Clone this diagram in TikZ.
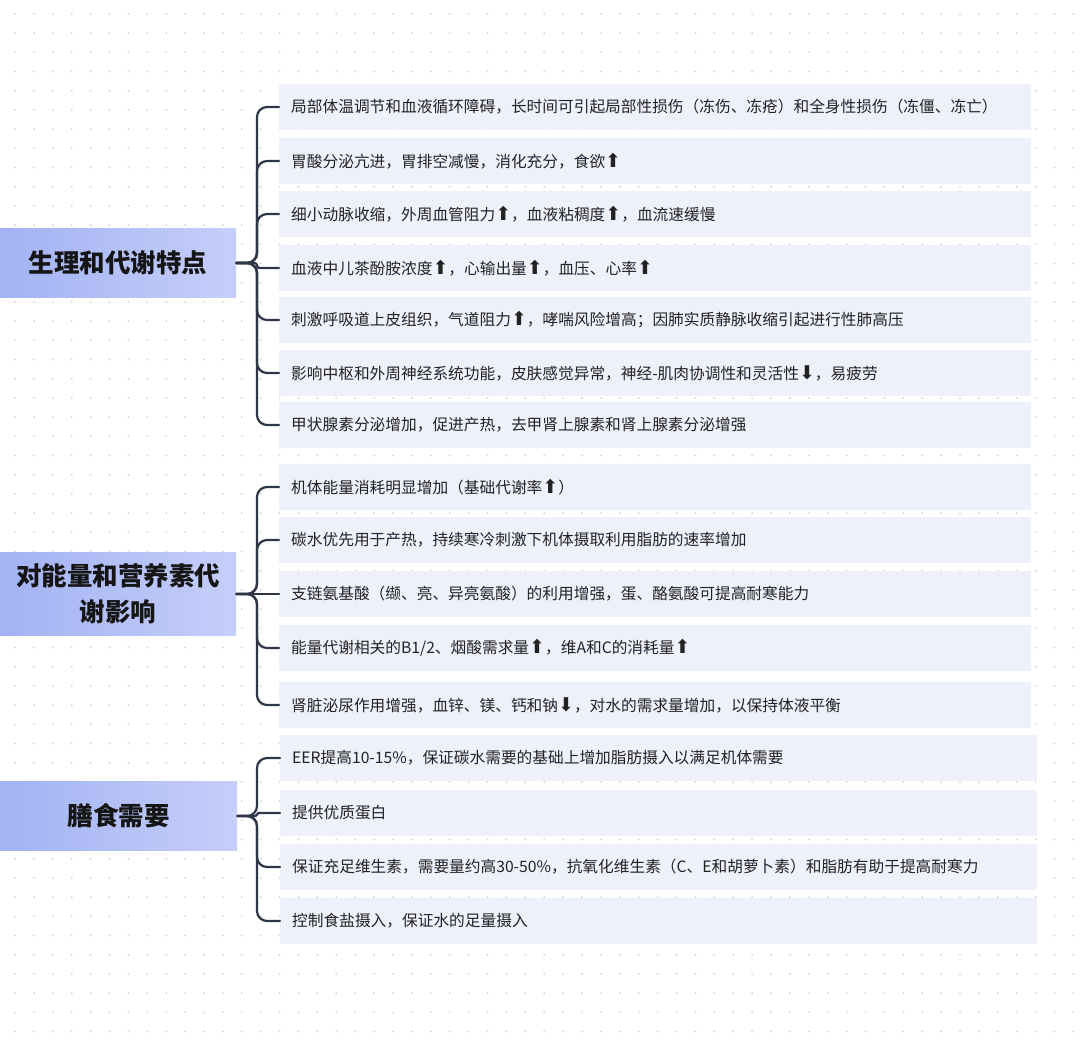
\documentclass[tikz,border=0pt]{standalone}
\usepackage{fontspec}
\setmainfont{Noto Sans CJK SC}
\newfontfamily\symfont{DejaVu Sans}
\newcommand\arrowup{{\symfont\fontsize{19}{19}\selectfont ⬆}}
\newcommand\arrowdn{{\symfont\fontsize{19}{19}\selectfont ⬇}}
\definecolor{boxfill}{HTML}{EEF1FC}
\definecolor{linec}{HTML}{2E3648}
\definecolor{dotc}{HTML}{D8D8D8}
\definecolor{pleft}{HTML}{A2B2F3}
\definecolor{pright}{HTML}{C6CFFA}
\definecolor{txt}{HTML}{222222}
\definecolor{ptxt}{HTML}{151515}
\tikzset{
  childbox/.style={fill=boxfill, draw=none, anchor=west, minimum height=46pt,
    text width=728pt, inner xsep=12pt, inner ysep=0pt, align=left,
    font=\fontsize{15.7}{18}\selectfont, text=txt},
  parentbox/.style={left color=pleft, right color=pright, draw=none, anchor=west,
    minimum width=236pt, inner sep=0pt, align=center,
    font=\fontsize{25.5}{36}\selectfont\bfseries, text=ptxt},
  conn/.style={draw=linec, line width=2.2pt, line cap=round}
}
\begin{document}
\begin{tikzpicture}[x=1pt,y=-1pt]
\useasboundingbox (0,0) rectangle (1080,1040);
\fill[white] (0,0) rectangle (1080,1040);
% dot grid
\foreach \i in {0,...,56}{
  \foreach \j in {0,...,53}{
    \fill[dotc] (15+\i*18.9, 14+\j*19.2) circle (1.1);
  }
}
% trunk x position
\coordinate (tk) at (257,0);

% group 1
\node[parentbox, minimum height=69pt] (p1) at (0,263) {生理和代谢特点};
\node[childbox] (c11) at (279,107) {局部体温调节和血液循环障碍，长时间可引起局部性损伤（冻伤、冻疮）和全身性损伤（冻僵、冻亡）};
\node[childbox] (c12) at (279,161) {胃酸分泌亢进，胃排空减慢，消化充分，食欲\arrowup};
\node[childbox] (c13) at (279,214) {细小动脉收缩，外周血管阻力\arrowup，血液粘稠度\arrowup，血流速缓慢};
\node[childbox] (c14) at (279,268) {血液中儿茶酚胺浓度\arrowup，心输出量\arrowup，血压、心率\arrowup};
\node[childbox] (c15) at (279,320) {刺激呼吸道上皮组织，气道阻力\arrowup，哮喘风险增高；因肺实质静脉收缩引起进行性肺高压};
\node[childbox] (c16) at (279,373) {影响中枢和外周神经系统功能，皮肤感觉异常，神经-肌肉协调性和灵活性\arrowdn，易疲劳};
\node[childbox] (c17) at (279,425) {甲状腺素分泌增加，促进产热，去甲肾上腺素和肾上腺素分泌增强};

% group 2
\node[parentbox, minimum height=82pt] (p2) at (0,594) {对能量和营养素代\\谢影响};
\node[childbox] (c21) at (279,487) {机体能量消耗明显增加（基础代谢率\arrowup）};
\node[childbox] (c22) at (279,540) {碳水优先用于产热，持续寒冷刺激下机体摄取利用脂肪的速率增加};
\node[childbox] (c23) at (279,594) {支链氨基酸（缬、亮、异亮氨酸）的利用增强，蛋、酪氨酸可提高耐寒能力};
\node[childbox] (c24) at (279,648) {能量代谢相关的B1/2、烟酸需求量\arrowup，维A和C的消耗量\arrowup};
\node[childbox] (c25) at (279,705) {肾脏泌尿作用增强，血锌、镁、钙和钠\arrowdn，对水的需求量增加，以保持体液平衡};

% group 3
\node[parentbox, minimum height=69pt, minimum width=237pt] (p3) at (0,816) {膳食需要};
\node[childbox, text width=733pt] (c31) at (280,758) {EER提高10-15\%，保证碳水需要的基础上增加脂肪摄入以满足机体需要};
\node[childbox, text width=733pt] (c32) at (280,813) {提供优质蛋白};
\node[childbox, text width=733pt] (c33) at (280,867) {保证充足维生素，需要量约高30-50\%，抗氧化维生素（C、E和胡萝卜素）和脂肪有助于提高耐寒力};
\node[childbox, text width=733pt] (c34) at (280,921) {控制食盐摄入，保证水的足量摄入};

% connectors group 1
\foreach \c in {c11,c12,c13,c15,c16,c17}{
  \draw[conn, rounded corners=10pt] (p1.east) -- (p1.east -| tk) |- (\c.west);
}
\draw[conn, rounded corners=2.5pt] (p1.east) -- (p1.east -| tk) |- (c14.west);
% connectors group 2
\foreach \c in {c21,c22,c24,c25}{
  \draw[conn, rounded corners=10pt] (p2.east) -- (p2.east -| tk) |- (\c.west);
}
\draw[conn] (p2.east) -- (c23.west);
% connectors group 3
\foreach \c in {c31,c33,c34}{
  \draw[conn, rounded corners=10pt] (p3.east) -- (p3.east -| tk) |- (\c.west);
}
\draw[conn, rounded corners=1.5pt] (p3.east) -- (p3.east -| tk) |- (c32.west);
\end{tikzpicture}
\end{document}
